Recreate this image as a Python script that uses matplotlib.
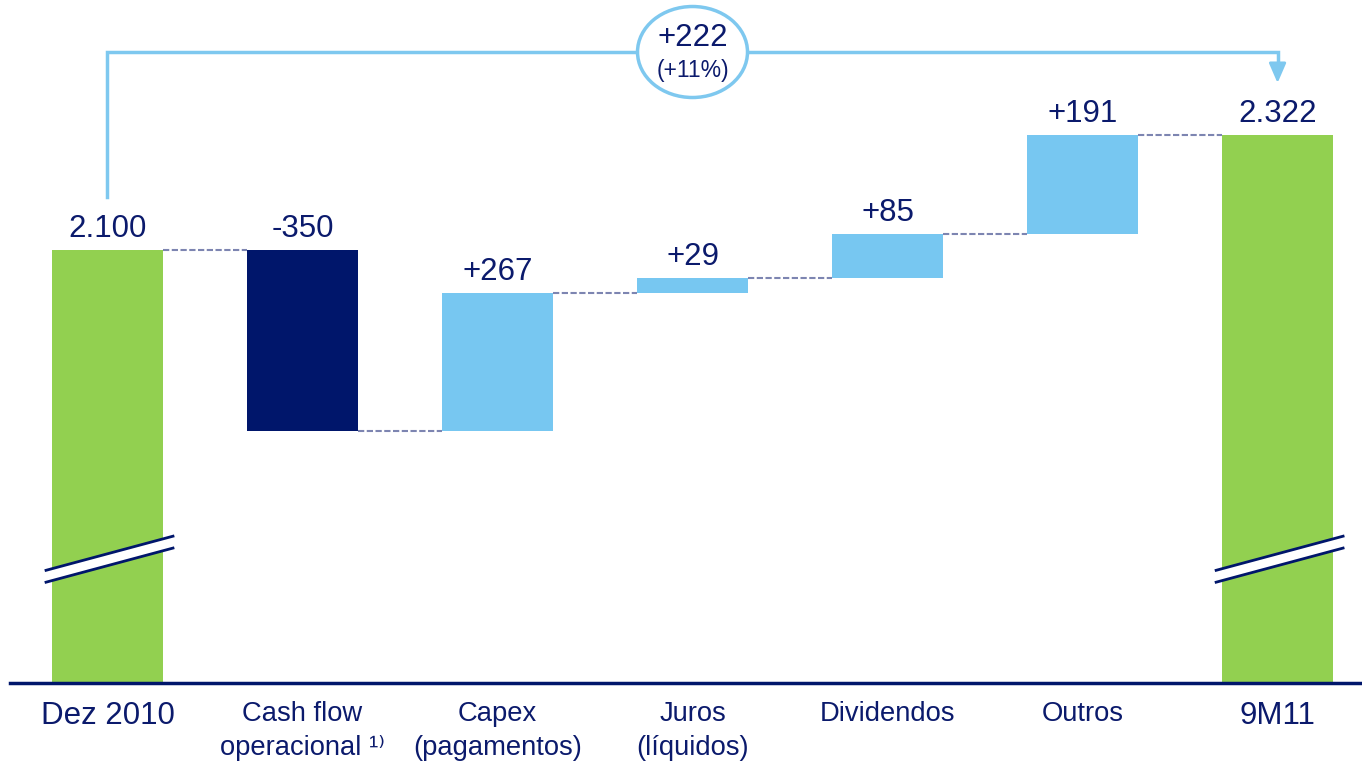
import matplotlib.pyplot as plt
from matplotlib.patches import Ellipse, Polygon

plt.rcParams['font.family'] = ['Liberation Sans', 'DejaVu Sans']

categories = ["Dez 2010", "Cash flow\noperacional ¹⁾", "Capex\n(pagamentos)",
              "Juros\n(líquidos)", "Dividendos", "Outros", "9M11"]
start_value = 2100
changes = [-350, 267, 29, 85, 191]
end_value = 2322

NAVY = '#00166b'
GREEN = '#92d050'
LIGHT = '#77c7f1'
TEXT = '#0b1a6c'
DASH = '#7d85b1'
LINE = '#7ec8ef'


def fmt(v):
    return f"{v:,}".replace(",", ".")


fig = plt.figure(figsize=(13.62, 7.64), dpi=100)
ax = fig.add_axes([0, 0.106, 1, 0.894])
ax.set_xlim(-0.551, 6.433)
ax.set_ylim(1262.5, 2583.6)
for s in ax.spines.values():
    s.set_visible(False)
ax.set_yticks([])

n = len(categories)
w = 0.565

# running totals after each bar
running = [start_value]
for c in changes:
    running.append(running[-1] + c)

tops = [start_value]
ax.bar(0, start_value, w, color=GREEN, zorder=2)
for i, c in enumerate(changes):
    lo = min(running[i], running[i + 1])
    ax.bar(i + 1, abs(c), w, bottom=lo, color=NAVY if c < 0 else LIGHT, zorder=2)
    tops.append(max(running[i], running[i + 1]))
ax.bar(n - 1, end_value, w, color=GREEN, zorder=2)
tops.append(end_value)

labels = [fmt(start_value)] + [f"{c:+d}" for c in changes] + [fmt(end_value)]
for i, (t, lab) in enumerate(zip(tops, labels)):
    ax.annotate(lab, (i, t), xytext=(0, 9.5), textcoords='offset points',
                ha='center', va='baseline', fontsize=22.5, color=TEXT)

# dashed connectors between bars
for i in range(n - 1):
    ax.plot([i + w / 2, i + 1 - w / 2], [running[i], running[i]],
            color=DASH, lw=1.5, ls=(0, (3, 1.2)), zorder=1)

# axis break marks on the two total bars
brk, rise, gap = 1502, 33, 11.5
for xi in (0, n - 1):
    x0, x1 = xi - 0.315, xi + 0.336
    ax.add_patch(Polygon([(x0, brk - rise - gap), (x1, brk + rise - gap),
                          (x1, brk + rise + gap), (x0, brk - rise + gap)],
                         closed=True, fc='white', ec='none', zorder=3))
    for sgn in (-1, 1):
        ax.plot([x0, x1], [brk - rise + sgn * gap, brk + rise + sgn * gap],
                color=NAVY, lw=2, zorder=4)

# baseline
ax.axhline(1262.5, xmin=10 / 1362, color=NAVY, lw=2.5, clip_on=False, zorder=5)

# bracket showing total change
diff = end_value - start_value
top = end_value + 161
ax.plot([0, 0, n - 1, n - 1], [start_value + 102, top, top, end_value + 125],
        color=LINE, lw=2.5, zorder=1, solid_joinstyle='miter')
ax.annotate('', xy=(n - 1, end_value + 101), xytext=(n - 1, end_value + 135),
            arrowprops=dict(arrowstyle='-|>,head_length=0.6,head_width=0.26',
                            mutation_scale=20, color=LINE, lw=2, shrinkA=0, shrinkB=0))
xm = (n - 1) / 2
ax.add_patch(Ellipse((xm, top), 0.564, 176, fc='white', ec=LINE, lw=2.5, zorder=3))
ax.annotate(f"{diff:+d}", (xm, top), xytext=(0, 10), textcoords='offset points',
            ha='center', va='center', fontsize=22.5, color=TEXT, zorder=4)
ax.annotate(f"({diff / start_value:+.0%})", (xm, top), xytext=(0, -13),
            textcoords='offset points', ha='center', va='center',
            fontsize=16.5, color=TEXT, zorder=4)

ax.set_xticks(range(n), categories)
ax.tick_params(axis='x', length=0, pad=13, labelcolor=TEXT, labelsize=19.7)
tls = ax.get_xticklabels()
for tl in tls:
    tl.set_linespacing(1.38)
tls[0].set_fontsize(22.5)
tls[-1].set_fontsize(22.5)

fig.savefig('out.png', dpi=100)
